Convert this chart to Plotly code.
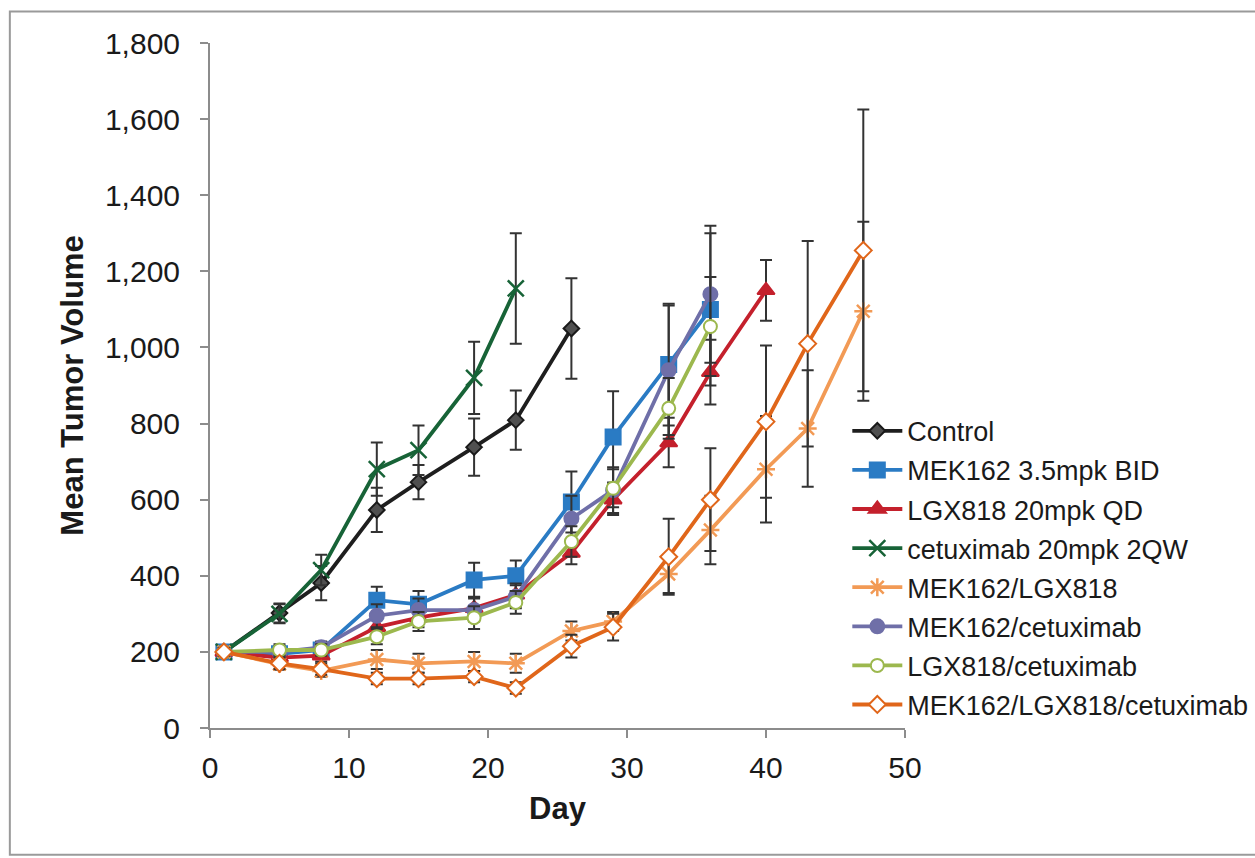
import plotly.graph_objects as go

# ---------------- data ----------------
series_names = [
    "Control",
    "MEK162 3.5mpk BID",
    "LGX818 20mpk QD",
    "cetuximab 20mpk 2QW",
    "MEK162/LGX818",
    "MEK162/cetuximab",
    "LGX818/cetuximab",
    "MEK162/LGX818/cetuximab",
]

control_days = [1, 5, 8, 12, 15, 19, 22, 26]
control_vals = [200, 302, 381, 573, 646, 738, 809, 1050]
control_err = [10, 25, 45, 58, 45, 75, 78, 132]

mek_days = [1, 5, 8, 12, 15, 19, 22, 26, 29, 33, 36]
mek_vals = [200, 195, 205, 336, 325, 389, 400, 594, 765, 955, 1100]
mek_err = [10, 15, 15, 35, 35, 45, 40, 80, 120, 160, 200]

lgx_days = [1, 5, 8, 12, 15, 19, 22, 26, 29, 33, 36, 40]
lgx_vals = [200, 185, 190, 265, 290, 315, 350, 460, 600, 750, 935, 1150]
lgx_err = [10, 15, 15, 25, 25, 30, 30, 30, 40, 65, 85, 80]

cet_days = [1, 5, 8, 12, 15, 19, 22]
cet_vals = [200, 300, 415, 680, 730, 920, 1155]
cet_err = [10, 25, 40, 70, 65, 95, 145]

mek_lgx_days = [1, 5, 8, 12, 15, 19, 22, 26, 29, 33, 36, 40, 43, 47]
mek_lgx_vals = [200, 168, 150, 180, 170, 175, 170, 255, 280, 405, 520, 680, 787, 1095]
mek_lgx_err = [10, 15, 15, 25, 25, 25, 25, 25, 25, 50, 90, 140, 153, 235]

mek_cet_days = [1, 5, 8, 12, 15, 19, 22, 26, 29, 33, 36]
mek_cet_vals = [200, 200, 212, 295, 310, 310, 345, 550, 625, 940, 1140]
mek_cet_err = [10, 15, 15, 30, 30, 30, 30, 60, 60, 170, 180]

lgx_cet_days = [1, 5, 8, 12, 15, 19, 22, 26, 29, 33, 36]
lgx_cet_vals = [200, 205, 205, 240, 280, 290, 330, 490, 630, 840, 1055]
lgx_cet_err = [10, 15, 15, 20, 25, 30, 30, 40, 50, 80, 130]

triple_days = [1, 5, 8, 12, 15, 19, 22, 26, 29, 33, 36, 40, 43, 47]
triple_vals = [200, 170, 155, 130, 130, 135, 105, 215, 265, 450, 600, 805, 1010, 1255]
triple_err = [10, 15, 15, 15, 15, 15, 15, 30, 35, 100, 135, 200, 270, 370]

x_ticks = [0, 10, 20, 30, 40, 50]
y_ticks = [0, 200, 400, 600, 800, 1000, 1200, 1400, 1600, 1800]

# ---------------- styles ----------------
styles = [
    dict(color="#1e1e1e", symbol="diamond", size=12, mfill="#505050", mline="#1a1a1a"),
    dict(color="#2a7bc4", symbol="square", size=15, mfill="#2a7bc4", mline="#2a7bc4"),
    dict(color="#c4202c", symbol="triangle-up", size=15, mfill="#c4202c", mline="#c4202c"),
    dict(color="#176337", symbol="x-thin-open", size=16, mfill="#176337", mline="#176337"),
    dict(color="#f29a55", symbol="asterisk-open", size=15, mfill="#f29a55", mline="#f29a55"),
    dict(color="#6f6fa8", symbol="circle", size=14, mfill="#6f6fa8", mline="#6f6fa8"),
    dict(color="#9cb84e", symbol="circle", size=13, mfill="white", mline="#9cb84e"),
    dict(color="#e0661a", symbol="diamond", size=13, mfill="white", mline="#e0661a"),
]

data = [
    (control_days, control_vals, control_err),
    (mek_days, mek_vals, mek_err),
    (lgx_days, lgx_vals, lgx_err),
    (cet_days, cet_vals, cet_err),
    (mek_lgx_days, mek_lgx_vals, mek_lgx_err),
    (mek_cet_days, mek_cet_vals, mek_cet_err),
    (lgx_cet_days, lgx_cet_vals, lgx_cet_err),
    (triple_days, triple_vals, triple_err),
]

fig = go.Figure()
for i, (name, (d, v, e), st) in enumerate(zip(series_names, data, styles)):
    open_sym = st["symbol"].endswith("open")
    fig.add_trace(go.Scatter(
        x=d, y=v, name=name, mode="lines+markers", legendgroup=f"g{i}",
        line=dict(color=st["color"], width=3.8),
        marker=dict(symbol=st["symbol"], size=st["size"], color=st["mfill"],
                    line=dict(color=st["mline"], width=2.5 if open_sym else 2)),
        error_y=dict(type="data", array=e, visible=True, color="#333333",
                     thickness=2, width=6),
    ))

fig.update_layout(
    width=1255, height=858,
    margin=dict(l=210, r=350, t=43, b=130, autoexpand=False),
    paper_bgcolor="white", plot_bgcolor="white",
    font=dict(family="Liberation Sans, Arial, sans-serif", color="#1a1a1a"),
    showlegend=True,
    legend=dict(
        x=0.917, y=0.469, xanchor="left", yanchor="top",
        font=dict(size=27, color="#1a1a1a"),
        bgcolor="rgba(0,0,0,0)", itemwidth=50, tracegroupgap=1,
    ),
    xaxis=dict(
        range=[0, 50], tickvals=x_ticks, showgrid=False, zeroline=False,
        showline=True, linecolor="#8c8c8c", linewidth=2,
        ticks="outside", ticklen=8, tickcolor="#8c8c8c", tickwidth=2,
        tickfont=dict(size=30), ticklabelstandoff=4,
        title=dict(text="<b>Day</b>", font=dict(size=31), standoff=14),
    ),
    yaxis=dict(
        range=[0, 1800], tickvals=y_ticks, tickformat=",", showgrid=False,
        zeroline=False, showline=True, linecolor="#8c8c8c", linewidth=2,
        ticks="outside", ticklen=8, tickcolor="#8c8c8c", tickwidth=2,
        tickfont=dict(size=30), ticklabelstandoff=14,
        title=dict(text="<b>Mean Tumor Volume</b>", font=dict(size=31), standoff=12),
    ),
    shapes=[dict(type="rect", xref="paper", yref="paper",
                 x0=-0.288, x1=1.52, y0=-0.185, y1=1.046,
                 line=dict(color="#9a9a9a", width=2), fillcolor="rgba(0,0,0,0)",
                 layer="below")],
)

fig.write_html("out.html")
